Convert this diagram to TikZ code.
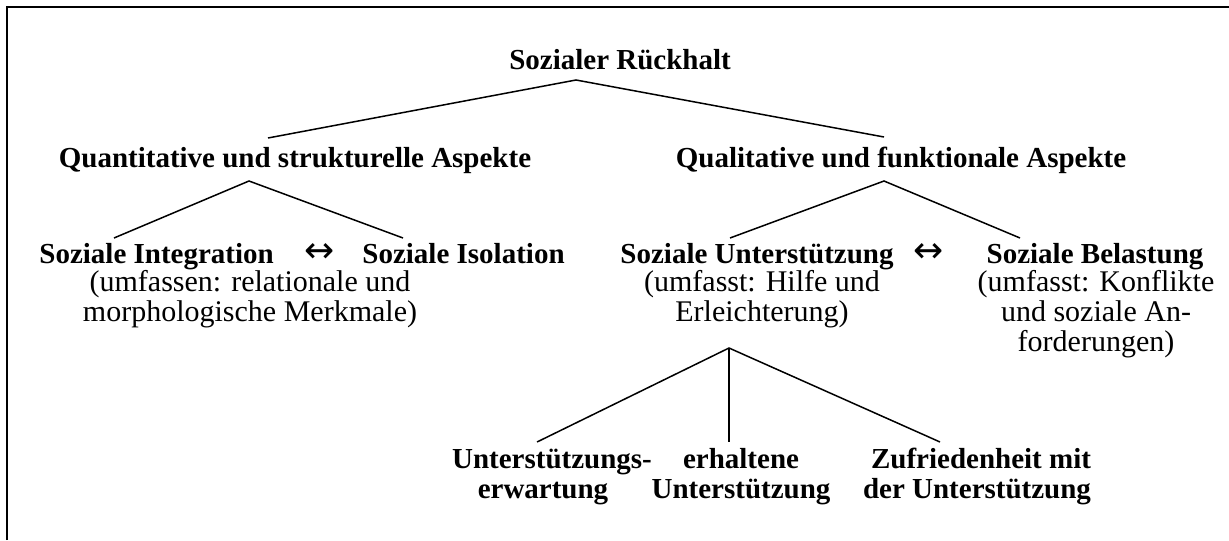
\documentclass[tikz,border=0pt]{standalone}
\usepackage{fontspec}
\setmainfont{Liberation Serif}
\newfontfamily\arrowfont{DejaVu Sans}
\begin{document}
\begin{tikzpicture}[x=0.5pt,y=-0.5pt,
  lbl/.style={inner sep=0pt, anchor=base, font=\fontsize{14.5}{15}\selectfont\bfseries},
  sub/.style={inner sep=0pt, anchor=base, font=\fontsize{15}{15}\selectfont},
  arr/.style={inner sep=0pt, anchor=base, text depth=0pt, text height=10pt, font=\arrowfont\fontsize{18}{18}\selectfont},
  conn/.style={line width=0.75pt},
  frame/.style={line width=1.1pt}]
\useasboundingbox (0,0) rectangle (1229,540);
% frame (top and left only)
\coordinate (fa) at (7,540);
\coordinate (fb) at (7,7);
\coordinate (fc) at (1229,7);
\draw[frame] (fa) -- (fb) -- (fc);
% texts
\node[lbl] (root) at (620,69) {Sozialer Rückhalt};
\node[lbl] (quant) at (295,167) {Quantitative und strukturelle Aspekte};
\node[lbl] (qual) at (901,167) {Qualitative und funktionale Aspekte};
\node[lbl,anchor=base west] (integ) at (39,263) {Soziale Integration};
\node[arr] (arrL) at (320,262) {↔};
\node[lbl,anchor=base west] (isol) at (362,263) {Soziale Isolation};
\node[lbl] (unter) at (757,263) {Soziale Unterstützung};
\node[arr] (arrR) at (929,262) {↔};
\node[lbl] (belast) at (1095,263) {Soziale Belastung};
\node[sub] (sL1) at (250,291) {(umfassen: relationale und};
\node[sub] (sL2) at (250,321) {morphologische Merkmale)};
\node[sub] (sM1) at (762,291) {(umfasst: Hilfe und};
\node[sub] (sM2) at (762,321) {Erleichterung)};
\node[sub] (sR1) at (1096,291) {(umfasst: Konflikte};
\node[sub] (sR2) at (1096,321) {und soziale An-};
\node[sub] (sR3) at (1096,351) {forderungen)};
\node[lbl] (b1a) at (552,468) {Unterstützungs-};
\node[lbl] (b1b) at (543,498) {erwartung};
\node[lbl] (b2a) at (741,468) {erhaltene};
\node[lbl] (b2b) at (741,498) {Unterstützung};
\node[lbl] (b3a) at (981,468) {Zufriedenheit mit};
\node[lbl] (b3b) at (977,498) {der Unterstützung};
% connector points
\coordinate (a0) at (576,80);
\coordinate (e0l) at (268,138);
\coordinate (e0r) at (884,137);
\coordinate (a1) at (249,181);
\coordinate (e1l) at (114,238);
\coordinate (e1r) at (403,238);
\coordinate (a2) at (884,181);
\coordinate (e2l) at (730,238);
\coordinate (e2r) at (1020,238);
\coordinate (a3) at (729,348);
\coordinate (e3l) at (537,442);
\coordinate (e3m) at (729,442);
\coordinate (e3r) at (940,442);
\draw[conn] (e0l) -- (a0) -- (e0r);
\draw[conn] (e1l) -- (a1) -- (e1r);
\draw[conn] (e2l) -- (a2) -- (e2r);
\draw[conn] (e3l) -- (a3) -- (e3r);
\draw[conn] (a3) -- (e3m);
\end{tikzpicture}
\end{document}
